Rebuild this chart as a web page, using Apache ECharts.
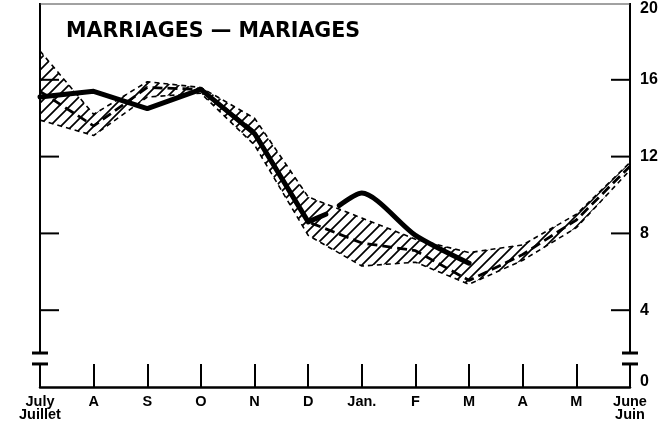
<!DOCTYPE html>
<html><head><meta charset="utf-8">
<script src="https://cdn.jsdelivr.net/npm/echarts@6/dist/echarts.min.js"></script>
<style>html,body{margin:0;padding:0;background:#fff}#c{width:670px;height:423px}</style>
</head><body><div id="c"></div>
<script>
// ---- data ----
const monthLabels = ['July\nJuillet','A','S','O','N','D','Jan.','F','M','A','M','June\nJuin'];
const yLabelValues = [0,4,8,12,16,20];
const yTickValues = [4,8,12,16];
const upperRange = [17.5, 14.2, 15.9, 15.6, 14.0, 9.9, 8.8, 7.7, 7.0, 7.4, 9.0, 11.7];
const lowerRange = [13.9, 13.1, 15.1, 15.3, 12.6, 7.9, 6.3, 6.5, 5.35, 6.6, 8.3, 11.3];
const meanLine   = [15.4, 13.6, 15.6, 15.5, 13.3, 8.6, 7.5, 7.1, 5.55, 6.9, 8.7, 11.5];
const currentFirst  = [[0,15.1],[1,15.4],[2,14.5],[3,15.5],[4,13.2],[5,8.6],[5.33,9.0]];
const currentSecond = [[5.58,9.45],[6,10.1],[7,7.9],[8,6.45]];
const breakLevels = [1.2, 1.77];

// hatch pattern ("/" diagonals)
const pat = document.createElement('canvas');
pat.width = 11; pat.height = 11;
(function(){
  const g = pat.getContext('2d');
  g.strokeStyle = '#000'; g.lineWidth = 1.7;
  g.beginPath();
  g.moveTo(-1, 12); g.lineTo(12, -1);
  g.moveTo(-1, 1); g.lineTo(1, -1);
  g.moveTo(10, 12); g.lineTo(12, 10);
  g.stroke();
})();

const chart = echarts.init(document.getElementById('c'), null, {renderer:'canvas'});
const font = 'Liberation Sans, DejaVu Sans, sans-serif';
const pair = (arr) => arr.map((v,i) => [i, v]);

const option = {
  backgroundColor: '#fff',
  animation: false,
  title: {
    text: 'MARRIAGES — MARIAGES',
    left: 66, top: 21, padding: 0,
    textStyle: {fontFamily: 'DejaVu Sans', fontWeight: 'bold', fontSize: 20.6, color: '#000'}
  },
  grid: {left: 40, right: 40, top: 3, bottom: 36},
  xAxis: {
    type: 'value', min: 0, max: 11, interval: 1,
    axisLine: {show: true, lineStyle: {color: '#000', width: 2.5}},
    axisTick: {show: true, inside: true, length: 23, lineStyle: {color: '#000', width: 2}},
    splitLine: {show: false},
    axisLabel: {
      margin: 9, color: '#000', fontFamily: font, fontWeight: 'bold', fontSize: 14.5, lineHeight: 12.5,
      formatter: (v) => monthLabels[v] || ''
    }
  },
  yAxis: {
    type: 'value', position: 'right', min: 0, max: 20, interval: 4,
    axisLine: {show: false},
    splitLine: {show: false},
    axisTick: {show: false},
    axisLabel: {
      margin: 10, color: '#000', fontFamily: font, fontWeight: 'bold', fontSize: 16,
      formatter: (v) => v === 20 ? '{t|20}' : (v === 0 ? '{b|0}' : String(v)),
      rich: {
        t: {padding: [12,0,0,0], fontFamily: font, fontWeight: 'bold', fontSize: 16, color: '#000'},
        b: {padding: [0,0,10,0], fontFamily: font, fontWeight: 'bold', fontSize: 16, color: '#000'}
      }
    }
  },
  series: [
    {
      type: 'custom', z: 1, silent: true,
      data: [[0, 0]],
      renderItem: function(params, api) {
        const pts = [];
        upperRange.forEach((v,i) => pts.push(api.coord([i, v])));
        for (let i = lowerRange.length - 1; i >= 0; i--) pts.push(api.coord([i, lowerRange[i]]));
        return {type: 'polygon', shape: {points: pts}, style: {fill: {image: pat, repeat: 'repeat'}, stroke: null}};
      }
    },
    {type: 'line', z: 2, data: pair(upperRange), symbol: 'none', lineStyle: {color: '#000', width: 1.6, type: [5,4]}},
    {type: 'line', z: 2, data: pair(lowerRange), symbol: 'none', lineStyle: {color: '#000', width: 1.6, type: [5,4]}},
    {type: 'line', z: 3, data: pair(meanLine), symbol: 'none', lineStyle: {color: '#000', width: 2.8, type: [10,5]}},
    {type: 'line', z: 4, data: currentFirst, symbol: 'none', lineStyle: {color: '#000', width: 5, cap: 'round', join: 'round'}},
    {type: 'line', z: 4, data: currentSecond, symbol: 'none', smooth: 0.25, lineStyle: {color: '#000', width: 5, cap: 'round', join: 'round'}}
  ]
};
chart.setOption(option);

// frame: broken vertical axes, break bars, inward ticks, top border
const px = (x, y) => chart.convertToPixel({gridIndex: 0}, [x, y]);
const gfx = [];
[[0, 1], [11, -1]].forEach(([xv, dir]) => {
  const top = px(xv, 20), brk = px(xv, breakLevels[1]);
  gfx.push({type: 'line', shape: {x1: top[0], y1: top[1], x2: brk[0], y2: brk[1]}, style: {stroke: '#000', lineWidth: 2}, z: 10});
  breakLevels.forEach(b => {
    const p = px(xv, b);
    gfx.push({type: 'line', shape: {x1: p[0]-8, y1: p[1], x2: p[0]+8, y2: p[1]}, style: {stroke: '#000', lineWidth: 3}, z: 10});
  });
  yTickValues.forEach(t => {
    const p = px(xv, t);
    gfx.push({type: 'line', shape: {x1: p[0], y1: p[1], x2: p[0] + dir * 19, y2: p[1]}, style: {stroke: '#000', lineWidth: 2}, z: 10});
  });
});
const tl = px(0, 20), tr = px(11, 20);
gfx.push({type: 'line', shape: {x1: tl[0], y1: tl[1]+1, x2: tr[0], y2: tr[1]+1}, style: {stroke: '#444', lineWidth: 1}, z: 10});
chart.setOption({graphic: gfx});
</script></body></html>
